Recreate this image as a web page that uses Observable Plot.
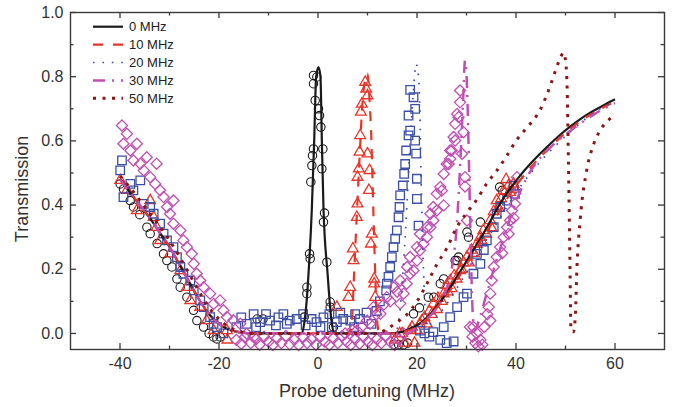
<!DOCTYPE html>
<html><head><meta charset="utf-8">
<script src="https://cdn.jsdelivr.net/npm/d3@7"></script>
<script src="https://cdn.jsdelivr.net/npm/@observablehq/plot@0.6"></script>
<style>body{margin:0;background:#fff}#chart{width:677px;height:407px}</style>
</head><body><div id="chart"></div>
<script>
// ---- axis ticks ----
const xMajor = [-40, -20, 0, 20, 40, 60];
const xMinor = [-30, -10, 10, 30, 50];
const yMajor = [0, 0.2, 0.4, 0.6, 0.8, 1.0];
const yMinor = [0.1, 0.3, 0.5, 0.7, 0.9];
const seriesNames = ["0 MHz", "10 MHz", "20 MHz", "30 MHz", "50 MHz"];
const seriesColors = ["#1a1a1a", "#e8352a", "#3d4fa5", "#c14fb3", "#8c1515"];

// ---- theory curves [detuning, transmission] ----
const fit0 = [[-40,0.48],[-38,0.44],[-36,0.40],[-34,0.36],[-32,0.315],[-30,0.27],[-28,0.215],[-26,0.16],[-24,0.105],[-22,0.06],[-20,0.03],[-18,0.012],[-16,0.004],[-13,0],[-6,0],[-3.4,0],[-2.8,0.03],[-2.3,0.1],[-1.9,0.19],[-1.24,0.39],[-0.77,0.6],[-0.37,0.8],[0.1,0.83],[0.5,0.8],[0.78,0.6],[1.11,0.39],[1.92,0.19],[2.8,0.03],[3.4,0],[14,0],[17,0.005],[19,0.018],[21,0.035],[23,0.065],[25,0.105],[27,0.15],[29,0.2],[31,0.25],[33,0.3],[35,0.355],[37,0.41],[39,0.455],[41,0.495],[43,0.53],[45,0.562],[47,0.592],[49,0.62],[51,0.645],[53,0.668],[55,0.688],[57,0.705],[59,0.722],[60,0.73]];
const fit10 = [[-40,0.48],[-38,0.44],[-36,0.40],[-34,0.36],[-32,0.315],[-30,0.27],[-28,0.215],[-26,0.16],[-24,0.105],[-22,0.06],[-20,0.03],[-18,0.012],[-16,0.004],[-13,0],[6.5,0],[6.9,0.05],[7.3,0.19],[8.0,0.42],[8.5,0.58],[8.9,0.70],[9.5,0.79],[10,0.81],[10.4,0.73],[10.7,0.64],[11.2,0.37],[11.55,0.19],[11.8,0.08],[12.2,0.01],[12.6,0],[16,0],[18,0.008],[20,0.02],[22,0.045],[24,0.08],[26,0.12],[28,0.165],[30,0.215],[32,0.265],[34,0.315],[36,0.365],[38,0.415],[40,0.46],[42,0.5],[44,0.535],[46,0.567],[48,0.597],[50,0.625],[52,0.65],[54,0.672],[56,0.69],[58,0.707],[60,0.722]];
const fit20 = [[-40,0.48],[-38,0.44],[-36,0.40],[-34,0.36],[-32,0.315],[-30,0.27],[-28,0.215],[-26,0.16],[-24,0.105],[-22,0.06],[-20,0.03],[-18,0.012],[-16,0.004],[-13,0],[15.5,0],[16.5,0.06],[17.2,0.2],[17.8,0.35],[18.3,0.5],[18.8,0.64],[19.3,0.76],[19.8,0.84],[20.3,0.8],[20.6,0.68],[20.8,0.5],[21.0,0.37],[21.3,0.2],[21.6,0.08],[22.0,0.02],[23,0.035],[25,0.07],[27,0.115],[29,0.165],[31,0.215],[33,0.265],[35,0.315],[37,0.365],[39,0.415],[41,0.46],[43,0.5],[45,0.537],[47,0.57],[49,0.6],[51,0.628],[53,0.655],[55,0.68],[57,0.70],[59,0.715],[60,0.72]];
const fit30 = [[-40,0.48],[-38,0.44],[-36,0.40],[-34,0.36],[-32,0.315],[-30,0.27],[-28,0.215],[-26,0.16],[-24,0.105],[-22,0.06],[-20,0.03],[-18,0.012],[-16,0.004],[-13,0],[18,0],[20,0.02],[22,0.045],[24,0.08],[26,0.14],[27,0.2],[28,0.33],[28.8,0.55],[29.3,0.72],[29.7,0.85],[30.1,0.77],[30.4,0.6],[30.7,0.38],[31.0,0.18],[31.3,0.05],[31.7,0.01],[32.5,0.04],[34,0.12],[36,0.225],[38,0.32],[40,0.41],[42,0.48],[44,0.53],[46,0.565],[48,0.595],[50,0.62],[52,0.643],[54,0.665],[56,0.685],[58,0.702],[60,0.718]];
const fit50 = [[-40,0.49],[-38,0.455],[-36,0.415],[-34,0.375],[-32,0.335],[-30,0.29],[-28,0.24],[-26,0.185],[-24,0.13],[-22,0.08],[-20,0.045],[-18,0.02],[-16,0.008],[-14,0],[12,0],[14,0.015],[16,0.035],[18,0.06],[20,0.1],[22,0.155],[24,0.215],[26,0.265],[28,0.33],[30,0.375],[32,0.415],[34,0.465],[36,0.505],[38,0.55],[40,0.6],[42,0.638],[44,0.675],[45,0.7],[46,0.735],[47,0.775],[48,0.82],[49,0.86],[49.6,0.875],[50.0,0.85],[50.3,0.78],[50.6,0.53],[50.9,0.22],[51.1,0.01],[51.6,0.005],[52.0,0.06],[52.3,0.2],[53,0.36],[54.3,0.51],[55.7,0.59],[57.3,0.64],[59.5,0.675]];

// ---- measured data [detuning, transmission] ----
const data0 = [[-39.96,0.466],[-39.3,0.45],[-37.94,0.414],[-37.27,0.394],[-36,0.37],[-34.57,0.331],[-33.9,0.311],[-32.5,0.28],[-31.21,0.248],[-30.53,0.227],[-29.52,0.207],[-28.5,0.17],[-27.84,0.144],[-26.49,0.113],[-25.14,0.072],[-24.47,0.04],[-23.12,0.02],[-22,0.0],[-21.1,-0.011],[-20.43,-0.017],[-19.76,-0.011],[-12.3,0.045],[-11.1,0.045],
[-0.91,0.804],[-0.91,0.778],[-0.23,0.799],[-0.57,0.726],[0.1,0.7],[0.31,0.679],[0.58,0.643],[-0.91,0.575],[-1.11,0.554],[-1.24,0.523],[0.98,0.575],[0.78,0.513],[-1.45,0.472],[1.32,0.375],[1.11,0.347],[-1.71,0.248],[-1.58,0.233],[1.79,0.222],[-2.25,0.144],[-2.25,0.124],[2.46,0.098],[2.46,0.082],[-2.79,0.051],[3.13,0.02],
[15.3,-0.035],[16.3,-0.035],[17.3,-0.035],[18.1,-0.03],[19.3,0.061],[20.5,0.08],[22.3,0.113],[23.4,0.113],[24.7,0.155],[25.4,0.17],[27.7,0.227],[28.1,0.227],[28.4,0.238],[30.1,0.316],[30.4,0.3],[32.8,0.347],[36.7,0.456],[37.2,0.446]];
const data10 = [[-39.96,0.477],[-38.6,0.446],[-36.6,0.383],[-33.9,0.414],[-33.2,0.362],[-32.6,0.331],[-31.9,0.29],[-29.9,0.248],[-27.8,0.196],[-26.5,0.144],[-25.8,0.103],[-23.8,0.082],[-22.5,0.04],[-21.1,0.009],[-18.4,0.009],[-18.3,-0.02],
[9.53,0.783],[9.73,0.762],[10.0,0.741],[8.86,0.715],[8.66,0.69],[8.52,0.617],[10.0,0.56],[8.39,0.565],[8.25,0.513],[7.98,0.487],[10.41,0.508],[10.27,0.446],[7.98,0.404],[7.85,0.362],[10.88,0.31],[10.68,0.279],[7.04,0.264],[7.17,0.227],[11.35,0.17],[11.35,0.155],[6.5,0.144],[6.16,0.113],[3.81,0.082],[11.55,0.113],
[15.5,-0.02],[16.5,0.0],[17,0.0],[17.5,-0.03],[18.6,0.009],[19,0.02],[19.5,-0.03],[20,0.01],[20.6,0.03],[21,0.04],[21.5,0.05],[22,0.03],[22.5,0.07],[23,0.06],[23.3,0.092],[24,0.075],[24.2,0.11],[25,0.1],[25.4,0.124],[26.0,0.15],[26.2,0.13],[26.7,0.165],[27,0.14],[27.5,0.18],[28,0.17],[28.7,0.196],[29,0.2],[29.4,0.22],[30.1,0.238],[30.5,0.22],[31.0,0.26],[31.5,0.25],[32.1,0.279],[32.8,0.3],[33,0.29],[33.4,0.321],[34,0.31],[34.8,0.352],[35,0.33],[35.5,0.38],[36.1,0.414],[36.5,0.39],[37,0.42],[37.5,0.445],[38.5,0.461],[38.8,0.44],[39.5,0.466],[39.8,0.45],[38.0,0.48]];
const data20 = [[-39.6,0.539],[-39.96,0.508],[-39.3,0.425],[-37.9,0.466],[-37.3,0.446],[-35.9,0.477],[-35.2,0.404],[-33.9,0.394],[-33.2,0.373],[-31.9,0.342],[-31.2,0.311],[-30.5,0.29],[-29.2,0.269],[-28.5,0.238],[-27.8,0.207],[-27.2,0.186],[-25.8,0.165],[-25.1,0.134],[-23.8,0.103],[-23.1,0.082],[-21.8,0.051],[-21.1,0.03],[-20.4,0.02],[-19.1,0.0],
[-16.5,0.02],[-15.5,0.05],[-14.4,0.03],[-13,0.06],[-12.5,0.02],[-11.7,0.035],[-10.5,0.06],[-9.7,0.04],[-8.5,0.025],[-8,0.05],[-7.0,0.06],[-6.3,0.03],[-5.7,0.04],[-4.3,0.045],[-3,0.06],[-2.5,0.025],[-1.3,0.045],[-0.3,0.035],[0.5,0.02],[1.1,0.05],[2.3,0.06],[2.8,0.02],[3.8,0.035],[4.5,0.065],[5.1,0.045],[6.5,0.04],[7.3,0.02],[7.5,0.06],[8.5,0.045],[9.8,0.065],[10.8,0.03],[11.8,0.07],[12.5,0.1],
[18.62,0.759],[19.3,0.736],[19.63,0.7],[18.29,0.679],[18.62,0.632],[18.29,0.617],[19.63,0.601],[17.81,0.57],[19.83,0.56],[17.61,0.528],[17.41,0.497],[19.97,0.482],[17.14,0.461],[19.97,0.419],[16.6,0.43],[16.47,0.394],[16.27,0.362],[20.31,0.336],[15.93,0.321],[15.59,0.295],[15.26,0.269],[14.92,0.238],[14.58,0.207],[14.24,0.176],[13.91,0.155],[13.77,0.134],
[20.6,0.009],[21.5,0.0],[22.5,-0.01],[23.3,0.004],[24.7,-0.02],[25.4,0.02],[26.0,-0.03],[26.7,0.051],[27.4,-0.025],[28.1,0.082],[29.4,0.113],[30.1,0.124],[31.4,0.186],[32.1,0.248],[32.8,0.217],[33.5,0.26],[34.1,0.29],[35.5,0.331],[36.1,0.373],[36.8,0.394],[38.2,0.414],[39.8,0.435],[39.5,0.46]];
const data30 = [[-39.6,0.648],[-38.6,0.622],[-39.3,0.591],[-37.9,0.57],[-36.6,0.591],[-37.3,0.539],[-35.9,0.529],[-35.2,0.508],[-34.6,0.549],[-33.9,0.487],[-32.6,0.529],[-32.9,0.466],[-31.9,0.446],[-31.2,0.425],[-30.5,0.394],[-29.2,0.414],[-29.9,0.373],[-29.2,0.342],[-27.8,0.321],[-27.2,0.29],[-26.5,0.269],[-25.5,0.248],[-25.1,0.217],[-24.5,0.186],[-23.8,0.165],[-23.1,0.144],[-21.8,0.124],[-21.1,0.092],[-19.8,0.103],[-19.1,0.072],[-18.4,0.051],[-17.1,0.041],[-15.7,0.03],[-14.4,-0.001],[-13.0,-0.011],
[-16.5,-0.02],[-15.5,-0.032],[-14.8,-0.012],[-13.6,-0.03],[-12.5,-0.018],[-11.8,-0.035],[-10.9,-0.01],[-10,-0.026],[-9.1,-0.036],[-8.3,-0.015],[-7.4,-0.03],[-6.5,-0.008],[-5.7,-0.034],[-4.8,-0.02],[-3.9,-0.036],[-3,-0.012],[-2.2,-0.03],[-1.3,-0.018],[-0.4,-0.035],[0.5,-0.01],[1.4,-0.026],[2.3,-0.036],[3.1,-0.015],[4,-0.03],[4.9,-0.008],[5.8,-0.026],[6.6,-0.036],[7.5,-0.018],[8.4,-0.032],[9.2,-0.01],[10.1,-0.026],[11,-0.036],[11.9,-0.018],[12.8,-0.03],[13.7,-0.008],[14.6,-0.026],[15.5,-0.036],[16.4,-0.018],[17.3,0.0],
[5.5,0.0],[7,0.01],[7.85,0.009],[8.8,0.02],[9.9,0.04],[10.5,0.03],[11.2,0.082],[11.8,0.06],[12.6,0.061],[13.3,0.09],[13.9,0.113],[14.6,0.1],[15.3,0.144],[16.0,0.13],[16.6,0.165],[16.6,0.093],[17.3,0.124],[17.9,0.155],[18.0,0.207],[18.6,0.186],[18.6,0.238],[19.3,0.196],[20.0,0.227],[20.0,0.269],[20.6,0.259],[20.6,0.31],[21.3,0.279],[22.0,0.3],[22.0,0.331],[22.7,0.331],[22.7,0.373],[23.3,0.352],[23.3,0.394],[24.0,0.383],[24.0,0.435],[24.7,0.456],[25.0,0.445],[25.4,0.399],[25.4,0.497],[26.0,0.528],[26.4,0.528],[26.7,0.544],[26.7,0.57],[27.0,0.57],[27.4,0.612],[27.7,0.601],[27.7,0.653],[28.1,0.684],[28.4,0.674],[28.7,0.72],[28.7,0.757],[29.1,0.56],[29.4,0.627],[29.7,0.487],[29.7,0.458],[30.1,0.352],
[30.7,0.02],[31.2,-0.01],[31.4,0.02],[31.8,-0.03],[32.1,0.0],[32.4,-0.04],[32.8,-0.02],[33.2,-0.035],[33.6,0.02],[34.2,0.06],[34.5,0.082],[34.8,0.04],[34.8,0.124],[35.1,0.165],[35.5,0.207],[36.1,0.238],[36.8,0.269],[37.2,0.25],[37.5,0.3],[38.2,0.331],[38.8,0.352],[38.5,0.31],[39.2,0.383],[39.8,0.404],[39.8,0.435],[40.2,0.487],[39.5,0.36]];

const toObj = a => a.map(([x, y]) => ({x, y}));
const axisColor = "#3a3a3a";
const frameH = 337, frameW = 594;
const lineOpts = {x: "x", y: "y", curve: "monotone-x", strokeLinecap: "butt", strokeLinejoin: "round"};

const plot = Plot.plot({
  width: 677, height: 407,
  marginLeft: 70, marginRight: 13, marginTop: 12, marginBottom: 58,
  x: {domain: [-50, 70]},
  y: {domain: [-0.05, 1.0]},
  style: {fontFamily: "'Liberation Sans', Arial, sans-serif", fontSize: "16px", color: "#333", background: "#fff"},
  marks: [
    Plot.dot(toObj(data0), {x: "x", y: "y", symbol: "circle", r: 4.2, stroke: seriesColors[0], strokeWidth: 1.1, fill: "none"}),
    Plot.dot(toObj(data10), {x: "x", y: "y", symbol: "triangle", r: 4, stroke: seriesColors[1], strokeWidth: 1.3, fill: "none"}),
    Plot.dot(toObj(data20), {x: "x", y: "y", symbol: "square", r: 4.8, stroke: seriesColors[2], strokeWidth: 1.3, fill: "none"}),
    Plot.dot(toObj(data30), {x: "x", y: "y", symbol: "diamond2", r: 5, stroke: seriesColors[3], strokeWidth: 1.3, fill: "none"}),
    Plot.line(toObj(fit0), {...lineOpts, stroke: seriesColors[0], strokeWidth: 2.2}),
    Plot.line(toObj(fit10), {...lineOpts, stroke: seriesColors[1], strokeWidth: 2.2, strokeDasharray: "10,9"}),
    Plot.line(toObj(fit20), {...lineOpts, stroke: seriesColors[2], strokeWidth: 1.7, strokeDasharray: "1.6,7.6"}),
    Plot.line(toObj(fit30), {...lineOpts, stroke: seriesColors[3], strokeWidth: 2.5, strokeDasharray: "12,7,2,7"}),
    Plot.line(toObj(fit50), {...lineOpts, stroke: seriesColors[4], strokeWidth: 3, strokeDasharray: "3,6.5"}),
    Plot.frame({stroke: axisColor, strokeWidth: 1.4}),
    // inward ticks on all four sides
    Plot.tickX(xMajor, {x: d => d, insetTop: frameH - 6, stroke: axisColor, strokeWidth: 1.3}),
    Plot.tickX(xMinor, {x: d => d, insetTop: frameH - 3.5, stroke: axisColor, strokeWidth: 1.3}),
    Plot.tickX(xMajor, {x: d => d, insetBottom: frameH - 6, stroke: axisColor, strokeWidth: 1.3}),
    Plot.tickX(xMinor, {x: d => d, insetBottom: frameH - 3.5, stroke: axisColor, strokeWidth: 1.3}),
    Plot.tickY(yMajor, {y: d => d, insetRight: frameW - 6, stroke: axisColor, strokeWidth: 1.3}),
    Plot.tickY(yMinor, {y: d => d, insetRight: frameW - 3.5, stroke: axisColor, strokeWidth: 1.3}),
    Plot.tickY(yMajor, {y: d => d, insetLeft: frameW - 6, stroke: axisColor, strokeWidth: 1.3}),
    Plot.tickY(yMinor, {y: d => d, insetLeft: frameW - 3.5, stroke: axisColor, strokeWidth: 1.3}),
    Plot.axisX(xMajor, {tickSize: 0, tickPadding: 8, tickFormat: d => String(d), label: null, fontSize: 16, fill: "#333"}),
    Plot.axisY(yMajor, {tickSize: 0, tickPadding: 7, tickFormat: d3.format(".1f"), label: null, fontSize: 16, fill: "#333"})
  ]
});

const svg = d3.select(plot);
// axis titles
svg.append("text").attr("x", 367).attr("y", 397).attr("text-anchor", "middle")
  .attr("font-size", 18).attr("fill", "#333").text("Probe detuning (MHz)");
svg.append("text").attr("transform", "translate(28,189) rotate(-90)").attr("text-anchor", "middle")
  .attr("font-size", 18).attr("fill", "#333").text("Transmission");

// legend
const legendStyles = [
  {w: 2.2, dash: null},
  {w: 2.2, dash: "10,10"},
  {w: 1.7, dash: "1.6,7.8"},
  {w: 2.5, dash: "12,7,2,7"},
  {w: 3, dash: "3,6.5"}
];
const lg = svg.append("g").attr("font-size", 13).attr("fill", "#222").attr("text-anchor", "start");
seriesNames.forEach((name, i) => {
  const yy = 26.7 + i * 17.9;
  const ln = lg.append("line").attr("x1", 93).attr("x2", 123).attr("y1", yy).attr("y2", yy)
    .attr("stroke", seriesColors[i]).attr("stroke-width", legendStyles[i].w).attr("stroke-linecap", "butt");
  if (legendStyles[i].dash) ln.attr("stroke-dasharray", legendStyles[i].dash);
  lg.append("text").attr("x", 129).attr("y", yy).attr("dy", "0.36em").attr("text-anchor", "start").text(name);
});

document.getElementById("chart").appendChild(plot);
</script>
</body></html>
